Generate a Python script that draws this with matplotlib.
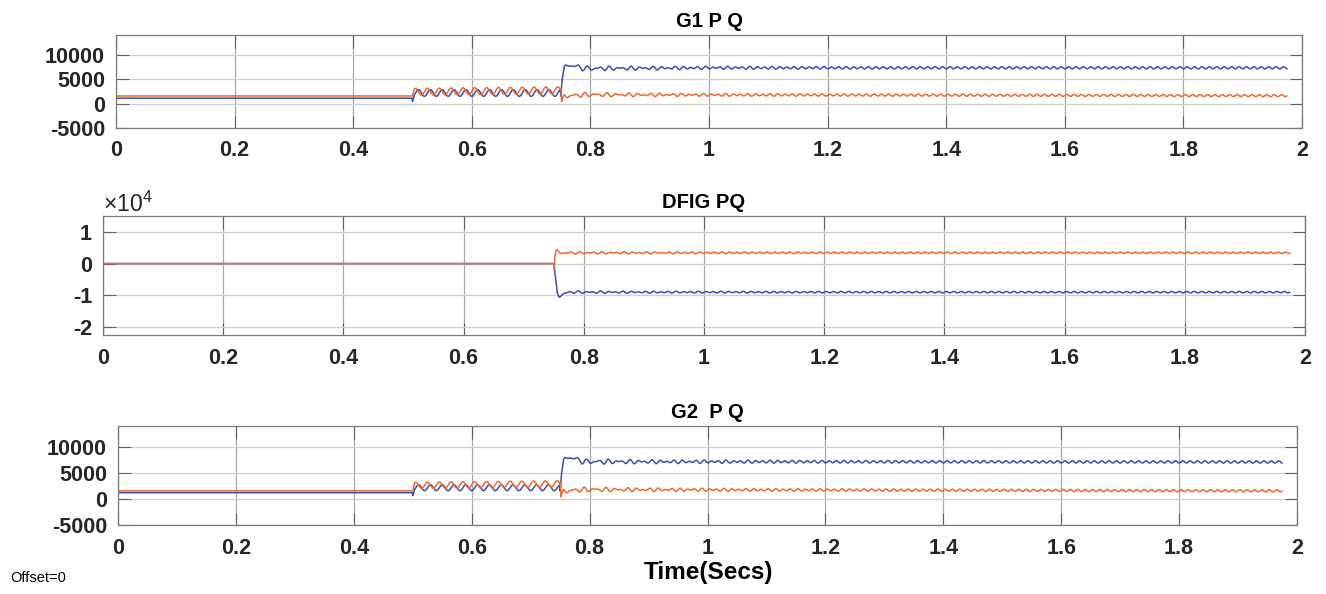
import numpy as np
import matplotlib.pyplot as plt

plt.rcParams['font.family'] = ['Liberation Sans', 'DejaVu Sans']
plt.rcParams['mathtext.fontset'] = 'custom'
plt.rcParams['mathtext.rm'] = 'Liberation Sans'

# time base of the scope (s)
t = np.arange(0, 1.975, 0.0005)

# mean trajectories: (time, value) keypoints
g1_p_t = [0, 0.500, 0.503, 0.750, 0.752, 0.756, 0.765, 0.790, 1.000, 1.975]
g1_p_v = [1100, 1100, 2150, 2150, 5000, 7200, 7900, 7150, 7300, 7300]
g1_q_t = [0, 0.500, 0.503, 0.749, 0.7505, 0.7515, 0.756, 0.790, 1.975]
g1_q_v = [1550, 1550, 2400, 2700, 2900, 100, 1500, 1800, 1600]

dfig_p_t = [0, 0.750, 0.753, 0.756, 0.759, 0.765, 0.775, 1.975]
dfig_p_v = [0, 0, -5000, -9500, -10400, -9600, -9000, -9000]
dfig_q_t = [0, 0.750, 0.7505, 0.752, 0.754, 0.760, 1.975]
dfig_q_v = [0, 0, -1100, 2500, 4000, 3400, 3400]

g2_p_t = [0, 0.500, 0.503, 0.750, 0.752, 0.756, 0.765, 0.790, 1.000, 1.975]
g2_p_v = [1200, 1200, 2150, 2150, 5000, 7200, 8100, 7150, 7150, 7100]
g2_q_t = [0, 0.500, 0.503, 0.749, 0.7505, 0.7515, 0.756, 0.790, 1.975]
g2_q_v = [1550, 1550, 2600, 2900, 3000, 100, 1500, 1800, 1550]

# ripple amplitudes: [0.5-0.75 s swing, decaying swing after 0.75 s, residual ripple]
g1_p_amp = [680, 400, 220]
g1_q_amp = [700, 350, 200]
dfig_p_amp = [0, 250, 220]
dfig_q_amp = [0, 250, 220]
g2_p_amp = [560, 400, 220]
g2_q_amp = [600, 350, 200]
ripple_hz = [50, 55, 80]


def signal(kt, kv, amp, lag):
    y = np.interp(t, kt, kv)
    mid = (t >= 0.5) & (t < 0.75)
    post = t >= 0.75
    y[mid] += amp[0] * np.sin(2 * np.pi * ripple_hz[0] * (t[mid] - 0.5) - lag)
    tp = t[post] - 0.75
    y[post] += amp[1] * np.exp(-tp / 0.2) * np.sin(2 * np.pi * ripple_hz[1] * tp - lag)
    y[post] += amp[2] * np.sin(2 * np.pi * ripple_hz[2] * tp - lag)
    return y


blue = '#3a4fb0'
orange = '#f0692f'

fig = plt.figure(figsize=(13.26, 5.94), dpi=100)
W, H = 1326, 594


def box(l, r, top, bot):
    return fig.add_axes([l / W, (H - bot) / H, (r - l) / W, (bot - top) / H])


def style(ax, title, ylim, yticks, ylabels):
    ax.set_xlim(0, 2)
    ax.set_ylim(*ylim)
    xt = np.round(np.arange(0, 2.01, 0.2), 1)
    ax.set_xticks(xt)
    ax.set_xticklabels([f'{v:g}' for v in xt], fontweight='bold')
    ax.set_yticks(yticks)
    ax.set_yticklabels(ylabels, fontweight='bold')
    ax.tick_params(direction='in', length=9, width=0.8, color='#606060',
                   top=True, right=True, labelsize=15.5, labelcolor='#262626')
    ax.tick_params(axis='x', pad=9)
    ax.tick_params(axis='y', pad=8)
    ax.grid(True, axis='y', color='#cfcfcf', lw=0.9)
    ax.grid(True, axis='x', color='#a8a8a8', lw=0.9)
    ax.set_axisbelow(True)
    for s in ax.spines.values():
        s.set_color('#7a7a7a')
        s.set_linewidth(0.9)
    ax.set_title(title, fontsize=14.5, fontweight='bold', pad=6)


ax1 = box(116, 1302, 35, 128)
ax1.plot(t, signal(g1_p_t, g1_p_v, g1_p_amp, 1.6), color=blue, lw=1.1)
ax1.plot(t, signal(g1_q_t, g1_q_v, g1_q_amp, 0.0), color=orange, lw=1.1)
style(ax1, 'G1 P Q', (-5000, 14000), [-5000, 0, 5000, 10000],
      ['-5000', '0', '5000', '10000'])

ax2 = box(103, 1305, 216, 335)
ax2.plot(t, signal(dfig_p_t, dfig_p_v, dfig_p_amp, 0.0), color=blue, lw=1.1)
ax2.plot(t, signal(dfig_q_t, dfig_q_v, dfig_q_amp, 1.0), color=orange, lw=1.1)
style(ax2, 'DFIG PQ', (-22500, 15000), [-20000, -10000, 0, 10000],
      ['-2', '-1', '0', '1'])
ax2.text(0, 0.995, r'$\times10^{4}$', transform=ax2.transAxes, ha='left',
         va='bottom', fontsize=16.5, color='#262626')

ax3 = box(118, 1297, 426, 525)
ax3.plot(t, signal(g2_p_t, g2_p_v, g2_p_amp, 1.6), color=blue, lw=1.1)
ax3.plot(t, signal(g2_q_t, g2_q_v, g2_q_amp, 0.0), color=orange, lw=1.1)
style(ax3, 'G2  P Q', (-5000, 14000), [-5000, 0, 5000, 10000],
      ['-5000', '0', '5000', '10000'])

fig.text(708 / W, 1 - 573 / H, 'Time(Secs)', ha='center', va='center',
         fontsize=17.5, fontweight='bold')
fig.text(10 / W, 1 - 578 / H, 'Offset=0', ha='left', va='center', fontsize=10.5)

fig.savefig('out.png', dpi=100)
